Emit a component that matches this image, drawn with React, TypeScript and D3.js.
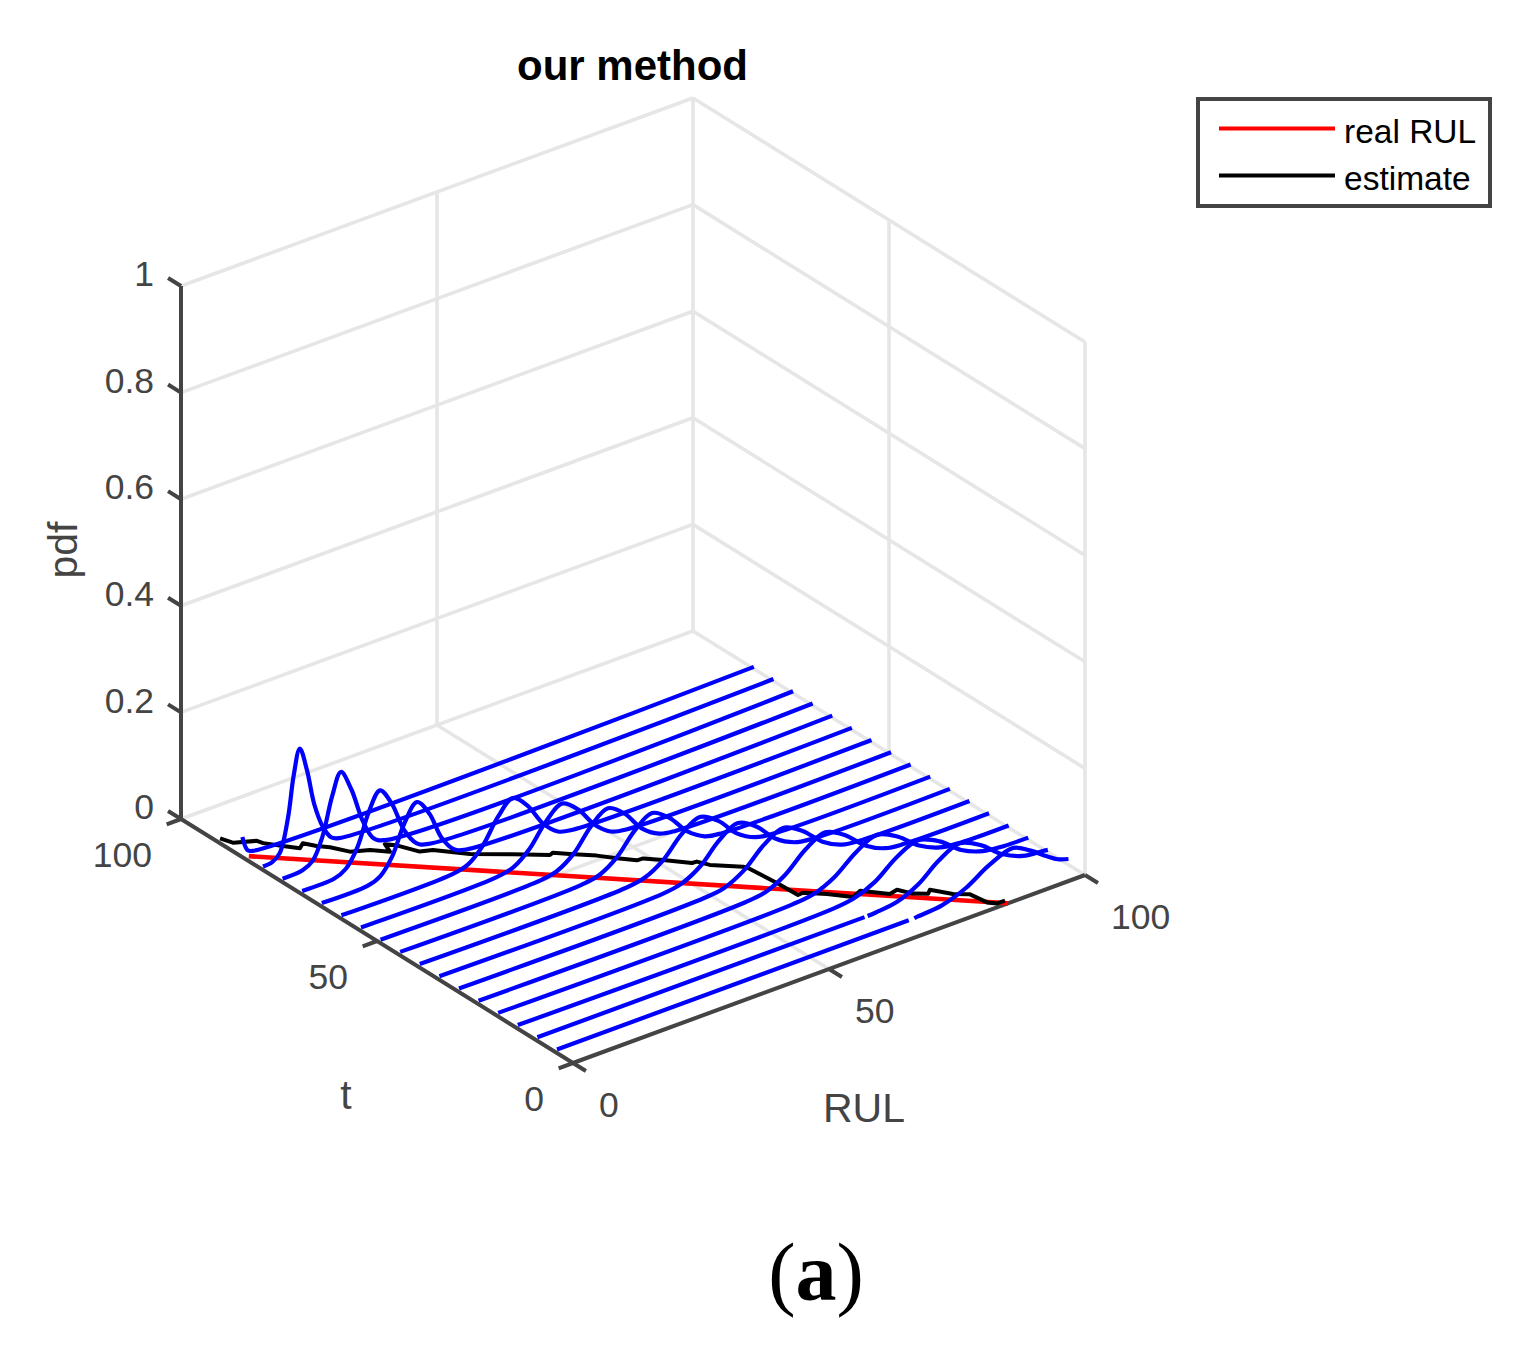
import * as d3 from "d3";

const zTicks = [0, 0.2, 0.4, 0.6, 0.8, 1];
const zTickLabels = ["0", "0.2", "0.4", "0.6", "0.8", "1"];
const axisTicks = [0, 50, 100];

// t of every pdf slice
const sliceT = [85, 80, 75, 70, 65, 60, 55, 50, 45, 40, 35, 30, 25, 20, 15, 10, 5];

// RUL samples of every slice (null pdf = small hole in the line)
const sliceRul = [
  [0.5, 1.5, 2.5, 100.4],
  [0.7, 2.5, 4, 5.6, 6.7, 7.9, 9.3, 10.7, 12.4, 14, 15.5, 100.4],
  [0.7, 4.6, 6.6, 8.5, 10.4, 12.1, 14.1, 16.4, 18.4, 20.6, 100.4],
  [0.7, 7, 9.2, 11.5, 13.7, 15.9, 18.2, 20.6, 23, 25.4, 100.4],
  [0.7, 9.7, 12.1, 14.5, 16.9, 19.3, 21.7, 24.1, 26.5, 28.9, 100.4],
  [0.7, 22.5, 25.4, 28.3, 31.3, 34.2, 37.1, 40.1, 43, 45.9, 100.4],
  [0.7, 27.3, 30.5, 33.6, 36.8, 40, 43.2, 46.4, 49.5, 52.7, 100.4],
  [0.7, 31.8, 35.1, 38.5, 41.8, 45.1, 48.4, 51.7, 55.1, 58.4, 100.4],
  [0.7, 36.1, 39.6, 43, 46.5, 49.9, 53.3, 56.8, 60.2, 63.7, 100.4],
  [0.7, 41, 44.6, 48.2, 51.8, 55.4, 59, 62.6, 66.2, 69.8, 100.4],
  [0.7, 44.4, 48, 51.7, 55.3, 59, 62.7, 66.3, 70, 73.6, 100.4],
  [0.7, 48.7, 52.5, 56.3, 60.2, 64, 67.8, 71.7, 75.5, 79.3, 100.4],
  [0.7, 52.8, 56.7, 60.6, 64.5, 68.4, 72.3, 76.2, 80.1, 84, 100.4],
  [0.7, 58.3, 62.4, 66.5, 70.6, 74.7, 78.8, 82.9, 87, 91.1, 100.4],
  [0.7, 62.1, 66.3, 70.5, 74.7, 78.9, 83.1, 87.3, 91.5, 95.7, 100.4],
  [0.7, 64.6, 64.9, 65.2, 66.8, 70.9, 75, 79.1, 83.2, 87.3, 91.4, 95.5, 99.6, 100.4],
  [0.7, 69.4, 70, 70.5, 71.2, 75.8, 80.5, 85.1, 89.8, 93, 96.4, 98.5, 100.6],
];

const slicePdf = [
  [0.033, 0.005, 0, 0],
  [0, 0.002, 0.014, 0.075, 0.15, 0.196, 0.15, 0.082, 0.033, 0.008, 0.001, 0],
  [0, 0.002, 0.013, 0.052, 0.121, 0.16, 0.121, 0.052, 0.014, 0.002, 0],
  [0, 0.001, 0.011, 0.044, 0.102, 0.135, 0.102, 0.044, 0.011, 0.001, 0],
  [0, 0.001, 0.01, 0.04, 0.094, 0.124, 0.094, 0.04, 0.01, 0.001, 0],
  [0, 0.001, 0.008, 0.033, 0.077, 0.102, 0.077, 0.033, 0.008, 0.001, 0],
  [0, 0.001, 0.008, 0.031, 0.071, 0.094, 0.071, 0.031, 0.008, 0.001, 0],
  [0, 0.001, 0.007, 0.029, 0.068, 0.09, 0.068, 0.029, 0.007, 0.001, 0],
  [0, 0.001, 0.007, 0.028, 0.066, 0.087, 0.066, 0.028, 0.007, 0.001, 0],
  [0, 0.001, 0.007, 0.027, 0.063, 0.083, 0.063, 0.027, 0.007, 0.001, 0],
  [0, 0.001, 0.007, 0.027, 0.062, 0.082, 0.062, 0.027, 0.007, 0.001, 0],
  [0, 0.001, 0.006, 0.025, 0.059, 0.078, 0.059, 0.025, 0.006, 0.001, 0],
  [0, 0.001, 0.006, 0.025, 0.058, 0.077, 0.058, 0.025, 0.006, 0.001, 0],
  [0, 0.001, 0.006, 0.024, 0.055, 0.073, 0.055, 0.024, 0.006, 0.001, 0],
  [0, 0.001, 0.006, 0.023, 0.054, 0.071, 0.054, 0.023, 0.006, 0.001, 0],
  [0, 0, null, 0, 0.001, 0.006, 0.024, 0.055, 0.073, 0.055, 0.024, 0.006, 0.001, 0],
  [0, 0, null, 0, 0.001, 0.005, 0.021, 0.048, 0.064, 0.048, 0.025, 0.012, 0.005],
];

const realT = [84, 0];
const realRul = [1, 85];

const estimateT = [
  91.3, 88.9, 87.2, 86, 83.4, 81.2, 82.2, 80.2, 78.6, 75.6, 74.1, 71.8, 74.2, 72.8, 69, 68.2,
  63.6, 59.5, 55.8, 56.1, 54.2, 51.2, 48.6, 46.2, 46.1, 43.8, 40.3, 40.2, 38.1, 34.5, 33.7,
  27.1, 22, 22.1, 19.5, 16.3, 17.2, 13.6, 14, 11.5, 10, 10.9, 7.6, 5.9, 2.2, 1, 0.95,
];
const estimateRul = [
  0.98, 1.75, 5.02, 5.34, 7.2, 8.83, 10.16, 11.34, 12.72, 14.31, 17.1, 19.22, 20.07, 21.3, 22.91, 24.84,
  28.6, 33.82, 38.22, 39.04, 40.88, 43.86, 45.8, 47.86, 49, 51.12, 54.09, 54.96, 55.91, 59.62, 59.98,
  60.58, 60.79, 61.86, 64.55, 67.16, 69.26, 72.29, 74, 75.18, 77.02, 78.05, 80.03, 82.06, 82.57, 83.6, 85.1,
];

const FONT = "'Liberation Sans', Arial, sans-serif";
const AXIS = "#444444";
const GRID = "#e6e6e6";

// oblique 3D view, one pair of scales per data axis
const rulX = d3.scaleLinear().domain([0, 100]).range([0, 512]);
const rulY = d3.scaleLinear().domain([0, 100]).range([0, -188]);
const tX = d3.scaleLinear().domain([0, 100]).range([0, -392]);
const tY = d3.scaleLinear().domain([0, 100]).range([0, -244]);
const zY = d3.scaleLinear().domain([0, 1]).range([0, -533]);

function project(rul: number, t: number, z: number): [number, number] {
  return [573 + rulX(rul) + tX(t), 1063 + rulY(rul) + tY(t) + zY(z)];
}

function seg(a: [number, number], b: [number, number]) {
  return "M" + a[0] + "," + a[1] + "L" + b[0] + "," + b[1];
}

const straight = d3.line();

const sliceLine = d3
  .line<{ rul: number; t: number; pdf: number | null }>()
  .defined((d) => d.pdf !== null)
  .x((d) => project(d.rul, d.t, d.pdf || 0)[0])
  .y((d) => project(d.rul, d.t, d.pdf || 0)[1])
  .curve(d3.curveCatmullRom.alpha(0.5));

export default function App() {
  const grid: string[] = [];
  zTicks.forEach((z) => {
    grid.push(seg(project(0, 100, z), project(100, 100, z)));
    grid.push(seg(project(100, 100, z), project(100, 0, z)));
  });
  axisTicks.forEach((v) => {
    grid.push(seg(project(v, 100, 0), project(v, 100, 1)));
    grid.push(seg(project(100, v, 0), project(100, v, 1)));
    grid.push(seg(project(v, 0, 0), project(v, 100, 0)));
    grid.push(seg(project(0, v, 0), project(100, v, 0)));
  });

  const axes: string[] = [
    seg(project(0, 0, 0), project(100, 0, 0)),
    seg(project(0, 0, 0), project(0, 100, 0)),
    seg(project(0, 100, 0), project(0, 100, 1)),
  ];
  axisTicks.forEach((v) => {
    axes.push(seg(project(v, 0, 0), project(v, -3.3, 0)));
    axes.push(seg(project(0, v, 0), project(-2.8, v, 0)));
  });
  zTicks.forEach((z) => {
    axes.push(seg(project(0, 100, z), project(0, 103.3, z)));
  });

  const real = realT.map((t, i) => project(realRul[i], t, 0));
  const estimate = estimateT.map((t, i) => project(estimateRul[i], t, 0));

  const tickText = { fontFamily: FONT, fontSize: 35.5, fill: AXIS };
  const labelText = { fontFamily: FONT, fontSize: 41, fill: AXIS };

  return (
    <svg
      width={1520}
      height={1357}
      style={{ position: "absolute", left: 0, top: 0, background: "#fff" }}
    >
      <path d={grid.join("")} fill="none" stroke={GRID} strokeWidth={3.6} />
      <path d={axes.join("")} fill="none" stroke={AXIS} strokeWidth={4} />

      <path d={straight(real) || ""} fill="none" stroke="#ff0000" strokeWidth={4.6} />
      <path d={straight(estimate) || ""} fill="none" stroke="#000000" strokeWidth={4} strokeLinejoin="round" />

      {sliceT.map((t, i) => (
        <path
          key={t}
          d={sliceLine(sliceRul[i].map((rul, j) => ({ rul, t, pdf: slicePdf[i][j] }))) || ""}
          fill="none"
          stroke="#0000ff"
          strokeWidth={4.2}
          strokeLinejoin="round"
        />
      ))}

      {zTicks.map((z, i) => {
        const p = project(0, 100, z);
        return (
          <text key={z} x={p[0] - 27} y={p[1] - 12.5} dy="0.36em" textAnchor="end" {...tickText}>
            {zTickLabels[i]}
          </text>
        );
      })}
      {axisTicks.map((v) => {
        const p = project(0, v, 0);
        return (
          <text key={v} x={p[0] - 29} y={p[1] + 35} dy="0.36em" textAnchor="end" {...tickText}>
            {v}
          </text>
        );
      })}
      {axisTicks.map((v) => {
        const p = project(v, 0, 0);
        return (
          <text key={v} x={p[0] + 26} y={p[1] + 41} dy="0.36em" {...tickText}>
            {v}
          </text>
        );
      })}

      <text x={864} y={1122} textAnchor="middle" {...labelText}>RUL</text>
      <text x={346} y={1109} textAnchor="middle" {...labelText}>t</text>
      <text transform="translate(77,550) rotate(-90)" textAnchor="middle" {...labelText}>pdf</text>

      <text x={632.5} y={80} textAnchor="middle" fontFamily={FONT} fontSize={42} fontWeight="bold" fill="#000">
        our method
      </text>

      <rect x={1198} y={99} width={292} height={107} fill="#fff" stroke={AXIS} strokeWidth={4} />
      <line x1={1219} x2={1335} y1={128.5} y2={128.5} stroke="#ff0000" strokeWidth={4} />
      <line x1={1219} x2={1335} y1={175.5} y2={175.5} stroke="#000000" strokeWidth={4} />
      <text x={1344} y={143} fontFamily={FONT} fontSize={33.5} fill="#000">real RUL</text>
      <text x={1344} y={190} fontFamily={FONT} fontSize={33.5} fill="#000">estimate</text>

      <text x={816} y={1300} textAnchor="middle" fontFamily="'Liberation Serif', serif" fontSize={82} fill="#000">
        (<tspan fontWeight="bold">a</tspan>)
      </text>
    </svg>
  );
}
